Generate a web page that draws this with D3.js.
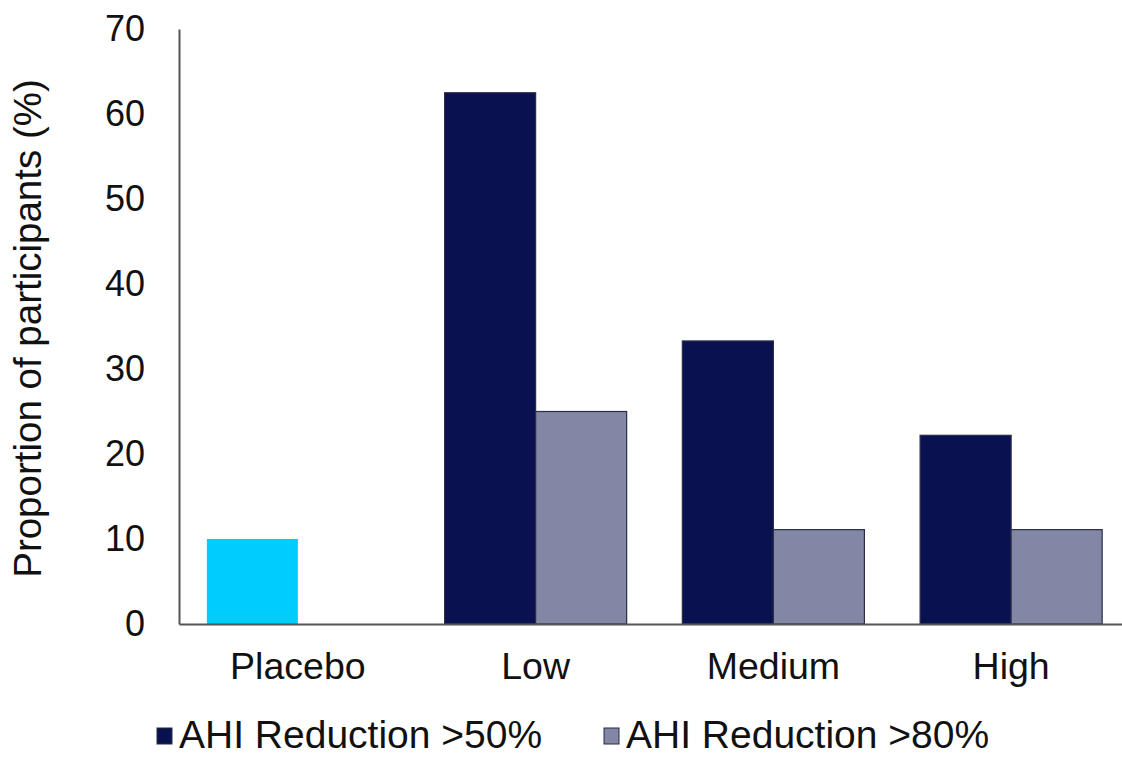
<!DOCTYPE html>
<html>
<head>
<meta charset="utf-8">
<script src="https://cdn.jsdelivr.net/npm/d3@7"></script>
<style>
  html, body { margin: 0; padding: 0; background: #fff; }
  svg { display: block; font-family: Arial, "Liberation Sans", sans-serif; }
</style>
</head>
<body>
<svg id="chart" width="1122" height="758"></svg>
<script>
// Share of participants reaching each AHI reduction threshold, by dose group
const categories = ["Placebo", "Low", "Medium", "High"];
const seriesNames = ["AHI Reduction >50%", "AHI Reduction >80%"];
const reduction50 = [10, 62.5, 33.3, 22.2];
const reduction80 = [null, 25, 11.1, 11.1];
const yTicks = [0, 10, 20, 30, 40, 50, 60, 70];

const seriesValues = [reduction50, reduction80];
const colors = ["#0a1150", "#8387a6"];
const placeboColor = "#00cdfb";

const svg = d3.select("#chart");
const margin = { left: 179, right: -8, top: 29, bottom: 134 };
const W = 1122, H = 758;

const x0 = d3.scaleBand()
  .domain(categories)
  .range([margin.left, W - margin.right])
  .padding(0);

const x1 = d3.scaleBand()
  .domain(seriesNames)
  .range([0, x0.bandwidth()])
  .paddingInner(0)
  .paddingOuter(0.306);

const y = d3.scaleLinear()
  .domain([0, 70])
  .range([H - margin.bottom, margin.top]);

// Bars
const rows = [];
categories.forEach((c, i) => {
  seriesNames.forEach((s, j) => {
    const v = seriesValues[j][i];
    if (v != null) rows.push({ cat: c, series: s, j, value: v });
  });
});

svg.append("g").selectAll("rect")
  .data(rows)
  .join("rect")
  .attr("x", d => x0(d.cat) + x1(d.series))
  .attr("y", d => y(d.value))
  .attr("width", x1.bandwidth())
  .attr("height", d => y(0) - y(d.value))
  .attr("fill", d => d.cat === "Placebo" ? placeboColor : colors[d.j])
  .attr("stroke", d => d.cat === "Placebo" ? "none" : "#2a2d45")
  .attr("stroke-width", 1.2);

// Y axis
const yAxis = svg.append("g")
  .attr("transform", `translate(${margin.left},0)`)
  .call(d3.axisLeft(y).tickValues(yTicks).tickSize(0).tickPadding(34));
yAxis.select(".domain").attr("stroke", "#555").attr("stroke-width", 2);
yAxis.selectAll("text")
  .attr("font-size", 36)
  .attr("fill", "#111")
  .style("font-family", "Arial, 'Liberation Sans', sans-serif");

// X axis
const xAxis = svg.append("g")
  .attr("transform", `translate(0,${y(0)})`)
  .call(d3.axisBottom(x0).tickSize(0).tickPadding(28));
xAxis.select(".domain").attr("stroke", "#555").attr("stroke-width", 2);
xAxis.selectAll("text")
  .attr("font-size", 37.5)
  .attr("fill", "#111")
  .style("font-family", "Arial, 'Liberation Sans', sans-serif");

// Y axis title
svg.append("text")
  .attr("transform", `translate(41,${(margin.top + y(0)) / 2 + 2}) rotate(-90)`)
  .attr("text-anchor", "middle")
  .attr("font-size", 38.5)
  .attr("fill", "#111")
  .text("Proportion of participants (%)");

// Legend
const legendX = [157, 604];
const legend = svg.append("g");
seriesNames.forEach((s, j) => {
  const g = legend.append("g").attr("transform", `translate(${legendX[j]},0)`);
  g.append("rect")
    .attr("x", 0).attr("y", 728)
    .attr("width", 15).attr("height", 16)
    .attr("fill", colors[j])
    .attr("stroke", "#2a2d45").attr("stroke-width", 1);
  g.append("text")
    .attr("x", 22).attr("y", 748)
    .attr("font-size", 39)
    .attr("fill", "#111")
    .text(s);
});
</script>
</body>
</html>
